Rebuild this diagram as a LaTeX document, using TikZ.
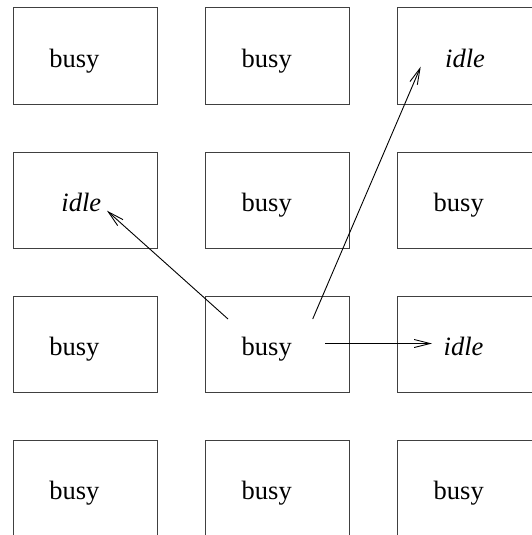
\documentclass[tikz,border=0pt]{standalone}
\usepackage{fontspec}
\setmainfont{Liberation Serif}
\usetikzlibrary{arrows.meta}
\begin{document}
\begin{tikzpicture}[x=1pt,y=-1pt,
  cell/.style={draw=black!75,line width=1pt,minimum width=144pt,minimum height=96pt,inner sep=0pt,anchor=north west},
  lbl/.style={inner sep=0pt,anchor=base west,font=\fontsize{26.5}{30}\selectfont},
  arr/.style={line width=0.9pt,-{Straight Barb[length=16pt,width=8pt,line width=0.9pt]}}]
\useasboundingbox (0,0) rectangle (532,535);
\begin{scope}
\clip (0,0) rectangle (532,535);
% boxes
\foreach \r/\y in {1/7.5,2/151.8,3/296,4/440}{
  \foreach \c/\x in {1/12.7,2/205,3/397}{
    \node[cell] (b\r\c) at (\x,\y) {};
  }
}
\end{scope}
% labels
\node[lbl] (t11) at ([xshift=36.5pt,yshift=-59.5pt]b11.north west) {busy};
\node[lbl] (t12) at ([xshift=36.5pt,yshift=-59.5pt]b12.north west) {busy};
\node[lbl] (t13) at ([xshift=48pt,yshift=-59.5pt]b13.north west) {\itshape idle};
\node[lbl] (t21) at ([xshift=48.5pt,yshift=-59.5pt]b21.north west) {\itshape idle};
\node[lbl] (t22) at ([xshift=36.5pt,yshift=-59.5pt]b22.north west) {busy};
\node[lbl] (t23) at ([xshift=36.5pt,yshift=-59.5pt]b23.north west) {busy};
\node[lbl] (t31) at ([xshift=36.5pt,yshift=-59.5pt]b31.north west) {busy};
\node[lbl] (t32) at ([xshift=36.5pt,yshift=-59.5pt]b32.north west) {busy};
\node[lbl] (t33) at ([xshift=46.5pt,yshift=-59.5pt]b33.north west) {\itshape idle};
\node[lbl] (t41) at ([xshift=36.5pt,yshift=-59.5pt]b41.north west) {busy};
\node[lbl] (t42) at ([xshift=36.5pt,yshift=-59.5pt]b42.north west) {busy};
\node[lbl] (t43) at ([xshift=36.5pt,yshift=-59.5pt]b43.north west) {busy};
% arrow ends
\coordinate (s1) at (228,319);
\coordinate (e1) at (107,210.7);
\coordinate (s2) at (312.7,319);
\coordinate (e2) at (420.7,66.7);
\coordinate (s3) at (325,343.5);
\coordinate (e3) at (432,343.5);
\draw[arr] (s1) -- (e1);
\draw[arr] (s2) -- (e2);
\draw[arr] (s3) -- (e3);
\end{tikzpicture}
\end{document}
